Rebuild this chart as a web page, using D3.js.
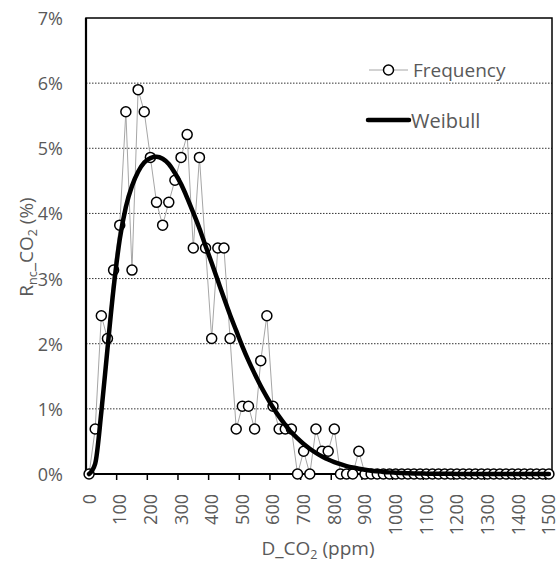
<!DOCTYPE html>
<html>
<head>
<meta charset="utf-8">
<script src="https://cdn.jsdelivr.net/npm/d3@7"></script>
<style>
  html, body { margin: 0; padding: 0; background: #fff; }
  svg { display: block; }
  text { font-family: "Open Sans", sans-serif; fill: #595959; }
</style>
</head>
<body>
<svg id="chart" width="559" height="562"></svg>
<script>
// ---- data ----
const categories = [0,20,40,60,80,100,120,140,160,180,200,220,240,260,280,300,320,340,360,380,
  400,420,440,460,480,500,520,540,560,580,600,620,640,660,680,700,720,740,760,780,
  800,820,840,860,880,900,920,940,960,980,1000,1020,1040,1060,1080,1100,1120,1140,1160,1180,
  1200,1220,1240,1260,1280,1300,1320,1340,1360,1380,1400,1420,1440,1460,1480,1500];

const frequency = [0,0.69,2.43,2.08,3.13,3.82,5.56,3.13,5.90,5.56,4.86,4.17,3.82,4.17,4.51,4.86,5.21,3.47,4.86,3.47,
  2.08,3.47,3.47,2.08,0.69,1.04,1.04,0.69,1.74,2.43,1.04,0.69,0.69,0.69,0,0.35,0,0.69,0.35,0.35,
  0.69,0,0,0,0.35,0,0,0,0,0,0,0,0,0,0,0,0,0,0,0,
  0,0,0,0,0,0,0,0,0,0,0,0,0,0,0,0];

const weibull = [0,0.16,0.95,1.92,2.85,3.60,4.10,4.42,4.64,4.78,4.85,4.87,4.84,4.76,4.62,4.45,4.24,4.01,3.77,3.50,
  3.24,2.97,2.70,2.44,2.20,1.96,1.74,1.54,1.35,1.18,1.02,0.88,0.755,0.64,0.546,0.46,0.387,0.323,0.269,0.222,
  0.183,0.15,0.122,0.099,0.08,0.064,0.051,0.041,0.032,0.025,0.02,0.015,0.012,0.009,0.007,0.0055,0.004,0.003,0.0025,0.002,
  0.0015,0,0,0,0,0,0,0,0,0,0,0,0,0,0,0];

const yTicks = [0,1,2,3,4,5,6,7];
const xLabelValues = [0,100,200,300,400,500,600,700,800,900,1000,1100,1200,1300,1400,1500];
const seriesNames = ["Frequency", "Weibull"];

// ---- layout ----
const svg = d3.select("#chart");
const L = 86, R = 552, T = 18, B = 474;

const x = d3.scaleBand().domain(categories).range([L, R]).paddingInner(0).paddingOuter(0);
const cx = c => x(c) + x.bandwidth() / 2;
const y = d3.scaleLinear().domain([0, 7]).range([B, T]);

// gridlines
svg.append("g").selectAll("line")
  .data(yTicks.filter(t => t > 0 && t < 7))
  .join("line")
  .attr("x1", L).attr("x2", R)
  .attr("y1", d => y(d)).attr("y2", d => y(d))
  .attr("stroke", "#333").attr("stroke-width", 1)
  .attr("stroke-dasharray", "1.5,1.5");

// plot border
svg.append("rect").attr("x", L).attr("y", T).attr("width", R - L).attr("height", B - T)
  .attr("fill", "none").attr("stroke", "#000").attr("stroke-width", 1.5);
svg.append("line").attr("x1", L).attr("x2", L).attr("y1", T).attr("y2", B)
  .attr("stroke", "#000").attr("stroke-width", 2.2);
svg.append("line").attr("x1", L).attr("x2", R).attr("y1", B).attr("y2", B)
  .attr("stroke", "#000").attr("stroke-width", 2);

// x tick marks at category boundaries every 5 categories
const tickIdx = d3.range(5, categories.length + 1, 5);
svg.append("g").selectAll("line")
  .data(tickIdx)
  .join("line")
  .attr("x1", i => x(categories[0]) + i * x.bandwidth())
  .attr("x2", i => x(categories[0]) + i * x.bandwidth())
  .attr("y1", B).attr("y2", B + 6)
  .attr("stroke", "#000").attr("stroke-width", 1.5);

// y tick labels
svg.append("g").selectAll("text")
  .data(yTicks)
  .join("text")
  .attr("x", 63).attr("y", d => y(d))
  .attr("text-anchor", "end").attr("dominant-baseline", "central")
  .attr("font-size", 18)
  .text(d => d + "%");

// x tick labels (rotated)
svg.append("g").selectAll("text")
  .data(xLabelValues)
  .join("text")
  .attr("transform", d => `translate(${cx(d)},${494}) rotate(-90)`)
  .attr("text-anchor", "end").attr("dy", "0.36em")
  .attr("font-size", 18)
  .text(d => d);

// axis titles
const xt = svg.append("text").attr("x", 318).attr("y", 555).attr("text-anchor", "middle").attr("font-size", 19);
xt.append("tspan").text("D_CO");
xt.append("tspan").attr("font-size", 12.5).attr("dy", 4).text("2");
xt.append("tspan").attr("dy", -4).text(" (ppm)");

const yt = svg.append("text").attr("transform", "translate(33,247) rotate(-90)")
  .attr("text-anchor", "middle").attr("font-size", 19);
yt.append("tspan").text("R");
yt.append("tspan").attr("font-size", 12.5).attr("dy", 4).text("nc");
yt.append("tspan").attr("dy", -4).text("_CO");
yt.append("tspan").attr("font-size", 12.5).attr("dy", 4).text("2");
yt.append("tspan").attr("dy", -4).text(" (%)");

// series data
const freqData = categories.map((c, i) => ({c, v: frequency[i]}));
const weiData = categories.map((c, i) => ({c, v: weibull[i]}));

svg.append("path").datum(freqData)
  .attr("fill", "none").attr("stroke", "#a6a6a6").attr("stroke-width", 1)
  .attr("d", d3.line().x(d => cx(d.c)).y(d => y(d.v)));

svg.append("g").selectAll("circle")
  .data(freqData)
  .join("circle")
  .attr("cx", d => cx(d.c)).attr("cy", d => y(d.v)).attr("r", 5)
  .attr("fill", "#fff").attr("stroke", "#000").attr("stroke-width", 1.5);

svg.append("path").datum(weiData)
  .attr("fill", "none").attr("stroke", "#000").attr("stroke-width", 4.5)
  .attr("stroke-linejoin", "round").attr("stroke-linecap", "round")
  .attr("d", d3.line().curve(d3.curveMonotoneX).x(d => cx(d.c)).y(d => y(d.v)));

// legend
const lg = svg.append("g");
lg.append("line").attr("x1", 369).attr("x2", 408).attr("y1", 70).attr("y2", 70)
  .attr("stroke", "#a6a6a6").attr("stroke-width", 1);
lg.append("circle").attr("cx", 388.5).attr("cy", 70).attr("r", 5)
  .attr("fill", "#fff").attr("stroke", "#000").attr("stroke-width", 1.5);
lg.append("text").attr("x", 413).attr("y", 70).attr("dominant-baseline", "central")
  .attr("font-size", 19).text(seriesNames[0]);
lg.append("line").attr("x1", 368).attr("x2", 409).attr("y1", 120).attr("y2", 120)
  .attr("stroke", "#000").attr("stroke-width", 4.5).attr("stroke-linecap", "round");
lg.append("text").attr("x", 411).attr("y", 120).attr("dominant-baseline", "central")
  .attr("font-size", 20).text(seriesNames[1]);
</script>
</body>
</html>
